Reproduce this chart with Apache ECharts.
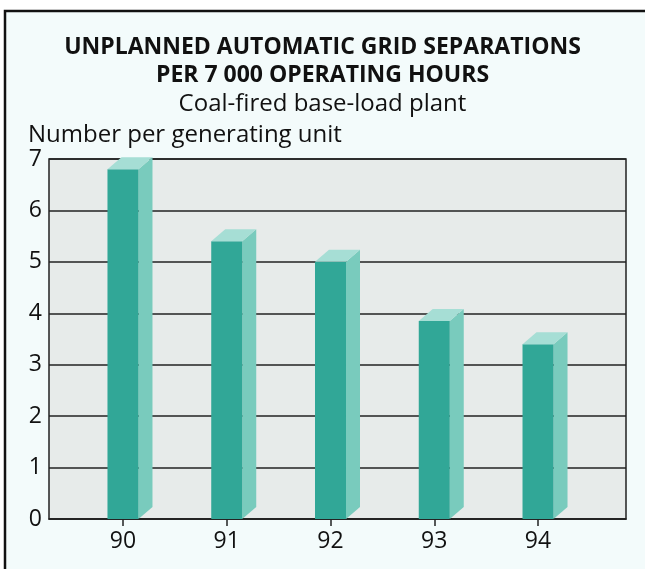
<!DOCTYPE html>
<html>
<head>
<meta charset="utf-8">
<script src="https://cdn.jsdelivr.net/npm/echarts@6/dist/echarts.min.js"></script>
<style>
  html, body { margin: 0; padding: 0; background: #fff; }
  #chart { width: 645px; height: 569px; }
</style>
</head>
<body>
<div id="chart"></div>
<script>
// years (x) and values
var years = [90, 91, 92, 93, 94];
var values = [6.8, 5.4, 5.0, 3.85, 3.4];
var yTicks = [0, 1, 2, 3, 4, 5, 6, 7];

var frontColor = '#31a797';
var sideColor = '#79cbbd';
var topColor = '#a6ded5';

var barData = [];
for (var i = 0; i < years.length; i++) {
    barData.push([years[i], values[i]]);
}

var chart = echarts.init(document.getElementById('chart'));

var option = {
    backgroundColor: '#fff',
    textStyle: { fontFamily: 'Open Sans' },
    graphic: [
        {
            type: 'rect',
            z: -100,
            shape: { x: 5, y: 11, width: 800, height: 700 },
            style: { fill: '#f3fbfb', stroke: '#111', lineWidth: 2.5 }
        }
    ],
    title: [
        {
            text: 'UNPLANNED AUTOMATIC GRID SEPARATIONS\nPER 7 000 OPERATING HOURS',
            left: 'center',
            top: 28,
            textStyle: {
                fontFamily: 'Open Sans',
                fontSize: 23,
                fontWeight: 'bold',
                color: '#111',
                lineHeight: 28
            }
        },
        {
            text: 'Coal-fired base-load plant',
            left: 'center',
            top: 85,
            textStyle: {
                fontFamily: 'Open Sans',
                fontSize: 24,
                fontWeight: 'normal',
                color: '#111',
                lineHeight: 28
            }
        },
        {
            text: 'Number per generating unit',
            left: 23,
            top: 116,
            textStyle: {
                fontFamily: 'Open Sans',
                fontSize: 24,
                fontWeight: 'normal',
                color: '#111',
                lineHeight: 28
            }
        }
    ],
    grid: {
        left: 49,
        right: 19,
        top: 159,
        bottom: 50,
        show: true,
        backgroundColor: '#e7ebea',
        borderColor: '#222',
        borderWidth: 1.5
    },
    xAxis: {
        type: 'value',
        min: 89.287,
        max: 94.848,
        splitLine: { show: false },
        axisLine: { show: true, onZero: false, lineStyle: { color: '#222', width: 1.5 } },
        axisTick: {
            show: true,
            customValues: years,
            length: 7,
            lineStyle: { color: '#222', width: 1.5 }
        },
        axisLabel: {
            customValues: years,
            fontSize: 23,
            color: '#111',
            margin: 11
        }
    },
    yAxis: {
        type: 'value',
        min: 0,
        max: 7,
        interval: 1,
        axisLine: { show: false },
        axisTick: { show: false },
        axisLabel: { fontSize: 23, color: '#111', margin: 7, padding: [5, 0, 0, 0] },
        splitLine: { show: true, lineStyle: { color: '#222', width: 1.5 } }
    },
    series: [
        {
            type: 'custom',
            data: barData,
            clip: false,
            renderItem: function (params, api) {
                var top = api.coord([api.value(0), api.value(1)]);
                var base = api.coord([api.value(0), 0]);
                var hw = 15.5, dx = 14, dy = 12;
                var xl = top[0] - hw, xr = top[0] + hw;
                return {
                    type: 'group',
                    children: [
                        {
                            type: 'polygon',
                            shape: { points: [[xr, top[1]], [xr + dx, top[1] - dy], [xr + dx, base[1] - dy], [xr, base[1]]] },
                            style: { fill: sideColor }
                        },
                        {
                            type: 'rect',
                            shape: { x: xl, y: top[1], width: hw * 2, height: base[1] - top[1] },
                            style: { fill: frontColor }
                        },
                        {
                            type: 'polygon',
                            shape: { points: [[xl, top[1]], [xl + dx, top[1] - dy], [xr + dx, top[1] - dy], [xr, top[1]]] },
                            style: { fill: topColor }
                        }
                    ]
                };
            }
        }
    ]
};

chart.setOption(option);
</script>
</body>
</html>
